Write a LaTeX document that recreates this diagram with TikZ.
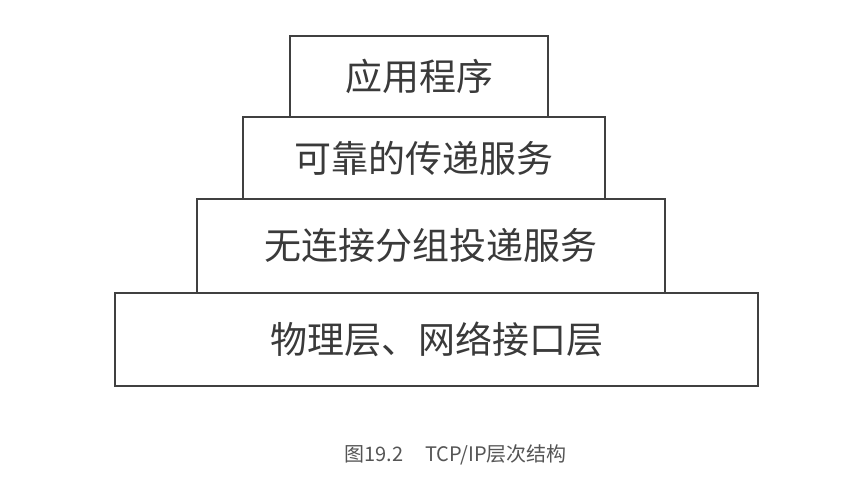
\documentclass[tikz,border=0pt]{standalone}
\usepackage{fontspec}
\newfontfamily\cjk{Noto Sans CJK SC}
\definecolor{edge}{HTML}{404040}
\definecolor{ink}{HTML}{3A3A3A}
\definecolor{captionink}{HTML}{555555}
\begin{document}
\begin{tikzpicture}[x=1pt,y=-1pt,
  layer/.style={draw=edge,line width=2pt,fill=white,inner sep=0pt},
  layertext/.style={font=\cjk\fontsize{37}{42}\selectfont,text=ink},
  captext/.style={font=\cjk\fontsize{20}{24}\selectfont,text=captionink}]
  \useasboundingbox (0,0) rectangle (864,478);
  % pyramid of layers, bottom to top
  \draw[layer] (115,293) rectangle (758,386);
  \draw[layer] (197,199) rectangle (665,293);
  \draw[layer] (243,117) rectangle (605,199);
  \draw[layer] (290,36) rectangle (548,117);
  \node[layertext] (app) at (419,76.5) {应用程序};
  \node[layertext] (rel) at (424,158) {可靠的传递服务};
  \node[layertext] (pkt) at (431,245.5) {无连接分组投递服务};
  \node[layertext] (phy) at (436.5,339.5) {物理层、网络接口层};
  \node[captext] (cap) at (455.5,455) {图19.2\hspace{1.1em}TCP/IP层次结构};
\end{tikzpicture}
\end{document}
